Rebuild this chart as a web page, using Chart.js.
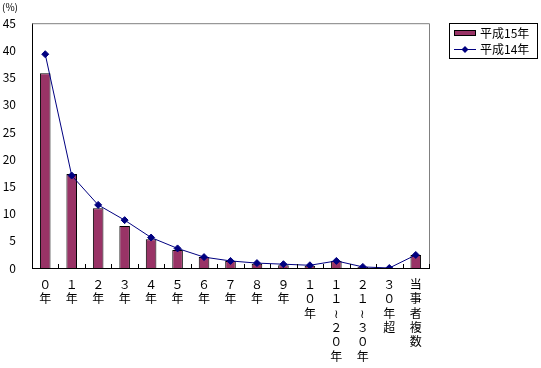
<!DOCTYPE html>
<html>
<head>
<meta charset="utf-8">
<script src="https://cdn.jsdelivr.net/npm/chart.js@4/dist/chart.umd.min.js"></script>
<style>
    html, body { margin: 0; padding: 0; background: #fff; }
    #wrap { width: 541px; height: 368px; position: relative; }
</style>
</head>
<body>
<div id="wrap"><canvas id="chart"></canvas></div>
<script>
// categories (vertical text, one character per line)
const categories = [
    ['０', '年'], ['１', '年'], ['２', '年'], ['３', '年'], ['４', '年'],
    ['５', '年'], ['６', '年'], ['７', '年'], ['８', '年'], ['９', '年'],
    ['１', '０', '年'],
    ['１', '１', '≀', '２', '０', '年'],
    ['２', '１', '≀', '３', '０', '年'],
    ['３', '０', '年', '超'],
    ['当', '事', '者', '複', '数']
];
const seriesNames = ['平成15年', '平成14年'];
const h15 = [35.8, 17.3, 11.0, 7.7, 5.3, 3.3, 2.0, 1.3, 0.8, 0.5, 0.4, 1.3, 0.2, 0, 2.4];
const h14 = [39.3, 17.0, 11.6, 8.8, 5.6, 3.6, 2.0, 1.3, 0.9, 0.7, 0.5, 1.3, 0.2, 0, 2.4];
const yTicks = { min: 0, max: 45, step: 5 };

const FONT = '"Noto Sans CJK JP", "MS PGothic", sans-serif';
const BAR_COLOR = '#993366';
const LINE_COLOR = '#000080';

// frame, inner category ticks and the legend box
const decorations = {
    id: 'decorations',
    afterDraw(chart) {
        const { ctx, chartArea: a, scales: { x } } = chart;
        ctx.save();
        // gray top/right frame
        ctx.strokeStyle = '#808080';
        ctx.lineWidth = 1;
        ctx.beginPath();
        ctx.moveTo(a.left, a.top + 0.5);
        ctx.lineTo(a.right + 0.5, a.top + 0.5);
        ctx.lineTo(a.right + 0.5, a.bottom);
        ctx.stroke();

        // category boundary ticks, pointing into the plot
        ctx.strokeStyle = '#000';
        const n = categories.length;
        const w = (x.right - x.left) / n;
        ctx.beginPath();
        for (let i = 1; i <= n; i++) {
            const px = Math.round(x.left + i * w) + 0.5;
            ctx.moveTo(px, a.bottom);
            ctx.lineTo(px, a.bottom - 4);
        }
        ctx.stroke();

        // legend
        const lx = 449, ly = 23, lw = 88, lh = 35;
        ctx.fillStyle = '#fff';
        ctx.fillRect(lx, ly, lw, lh);
        ctx.strokeStyle = '#000';
        ctx.strokeRect(lx + 0.5, ly + 0.5, lw, lh);

        ctx.fillStyle = BAR_COLOR;
        ctx.fillRect(lx + 5, ly + 7, 22, 6);
        ctx.strokeRect(lx + 5.5, ly + 7.5, 21, 5);

        const ry = ly + 26.5;
        ctx.strokeStyle = LINE_COLOR;
        ctx.beginPath();
        ctx.moveTo(lx + 5, ry);
        ctx.lineTo(lx + 27, ry);
        ctx.stroke();
        ctx.fillStyle = LINE_COLOR;
        ctx.beginPath();
        const cx = lx + 16;
        ctx.moveTo(cx, ry - 3.5); ctx.lineTo(cx + 3.5, ry);
        ctx.lineTo(cx, ry + 3.5); ctx.lineTo(cx - 3.5, ry);
        ctx.closePath();
        ctx.fill();

        ctx.fillStyle = '#000';
        ctx.font = '12px ' + FONT;
        ctx.textBaseline = 'middle';
        ctx.fillText(seriesNames[0], lx + 31, ly + 10.5);
        ctx.fillText(seriesNames[1], lx + 31, ry);

        // unit label
        ctx.font = '10px ' + FONT;
        ctx.textBaseline = 'top';
        ctx.fillText('(%)', 2, 2);
        ctx.restore();
    }
};

new Chart(document.getElementById('chart'), {
    data: {
        labels: categories,
        datasets: [
            {
                type: 'line',
                label: seriesNames[1],
                data: h14,
                borderColor: LINE_COLOR,
                backgroundColor: LINE_COLOR,
                borderWidth: 1,
                pointStyle: 'rectRot',
                pointRadius: 3.5,
                tension: 0,
                order: 0
            },
            {
                type: 'bar',
                label: seriesNames[0],
                data: h15,
                backgroundColor: BAR_COLOR,
                borderColor: '#000',
                borderWidth: 1,
                categoryPercentage: 1,
                barPercentage: 0.4,
                order: 1
            }
        ]
    },
    options: {
        responsive: true,
        maintainAspectRatio: false,
        animation: false,
        layout: { padding: { left: 0, top: 23, right: 112, bottom: 0 } },
        plugins: {
            legend: { display: false },
            tooltip: { enabled: false }
        },
        scales: {
            x: {
                offset: true,
                grid: { display: false, drawTicks: false },
                border: { color: '#000', width: 1 },
                ticks: {
                    color: '#000',
                    autoSkip: false,
                    maxRotation: 0,
                    padding: 9,
                    font: { family: FONT, size: 12, lineHeight: 1.2 }
                },
                afterFit(scale) { scale.height = 100; }
            },
            y: {
                min: yTicks.min,
                max: yTicks.max,
                grid: { display: false, drawTicks: false },
                border: { color: '#000', width: 1 },
                ticks: {
                    stepSize: yTicks.step,
                    color: '#000',
                    padding: 16,
                    font: { family: FONT, size: 12 }
                },
                afterFit(scale) { scale.width = 32; }
            }
        }
    },
    plugins: [decorations]
});
</script>
</body>
</html>
